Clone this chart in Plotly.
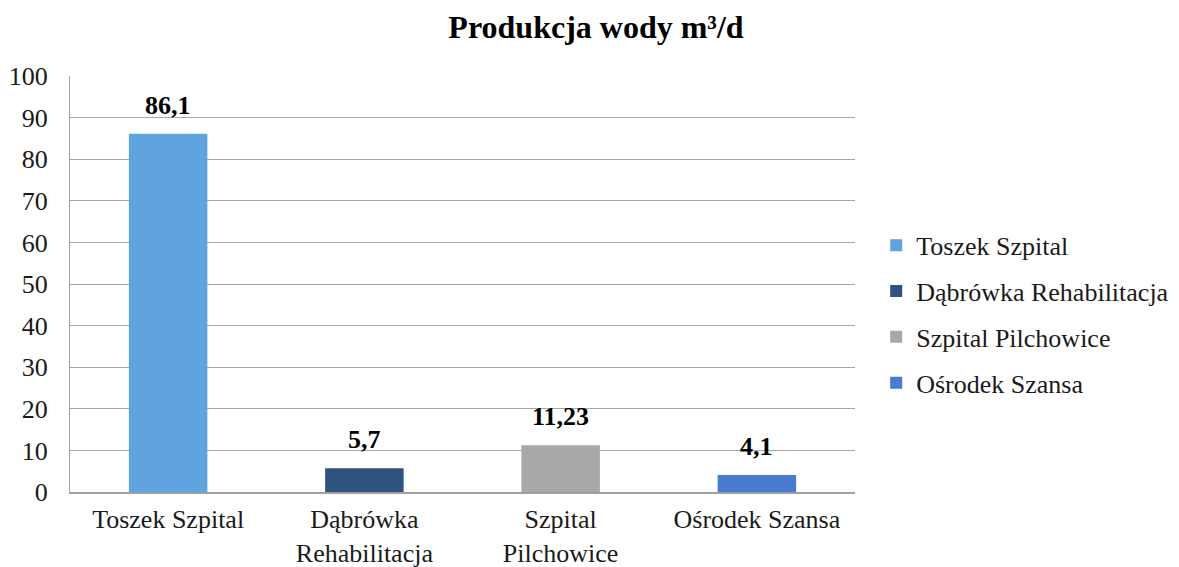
import plotly.graph_objects as go

# values
categories = ["Toszek Szpital", "Dąbrówka<br>Rehabilitacja", "Szpital<br>Pilchowice", "Ośrodek Szansa"]
legend_names = ["Toszek Szpital", "Dąbrówka Rehabilitacja", "Szpital Pilchowice", "Ośrodek Szansa"]
values = [86.1, 5.7, 11.23, 4.1]
labels = ["86,1", "5,7", "11,23", "4,1"]
colors = ["#5FA3DF", "#30527F", "#A8A8A8", "#4A7BD2"]
y_ticks = list(range(0, 101, 10))

serif = "Liberation Serif, Times New Roman, serif"

fig = go.Figure()
for i, cat in enumerate(categories):
    fig.add_trace(go.Bar(
        x=[cat], y=[values[i]], name=legend_names[i],
        marker=dict(color=colors[i], line=dict(width=0)),
        width=0.4,
        legendgroup=str(i),
    ))
    # value label above bar
    fig.add_annotation(x=cat, y=values[i], text="<b>%s</b>" % labels[i],
                       showarrow=False, yanchor="bottom", yshift=12,
                       font=dict(family=serif, size=26, color="#000000"))

# the page body has an 8px margin, so the figure is a bit smaller than the window
fig.update_layout(
    width=1171, height=559,
    barmode="overlay",
    paper_bgcolor="white", plot_bgcolor="white",
    margin=dict(l=62, r=324, t=68, b=75, autoexpand=False),
    font=dict(family=serif, size=26, color="#1a1a1a"),
    title=dict(text="<b>Produkcja wody m³/d</b>", x=588 / 1171, xanchor="center",
               y=1 - 19 / 559, yanchor="middle",
               font=dict(family=serif, size=32, color="#000000")),
    showlegend=True,
    legend=dict(x=1.027, y=0.427, xanchor="left", yanchor="middle",
                font=dict(family=serif, size=26, color="#1a1a1a"),
                traceorder="grouped", tracegroupgap=9,
                itemwidth=30, bgcolor="rgba(0,0,0,0)"),
)

fig.update_yaxes(range=[0, 100], tickvals=y_ticks, showgrid=True, gridcolor="#A6A6A6",
                 gridwidth=1, showline=True, linecolor="#A6A6A6", linewidth=1,
                 ticks="", ticklabelstandoff=16,
                 tickfont=dict(family=serif, size=26, color="#1a1a1a"),
                 zeroline=False)
fig.update_xaxes(showline=True, linecolor="#A0A0A0", linewidth=1.5, ticks="",
                 ticklabelstandoff=3,
                 tickfont=dict(family=serif, size=26, color="#1a1a1a"))

fig.write_html("out.html")
